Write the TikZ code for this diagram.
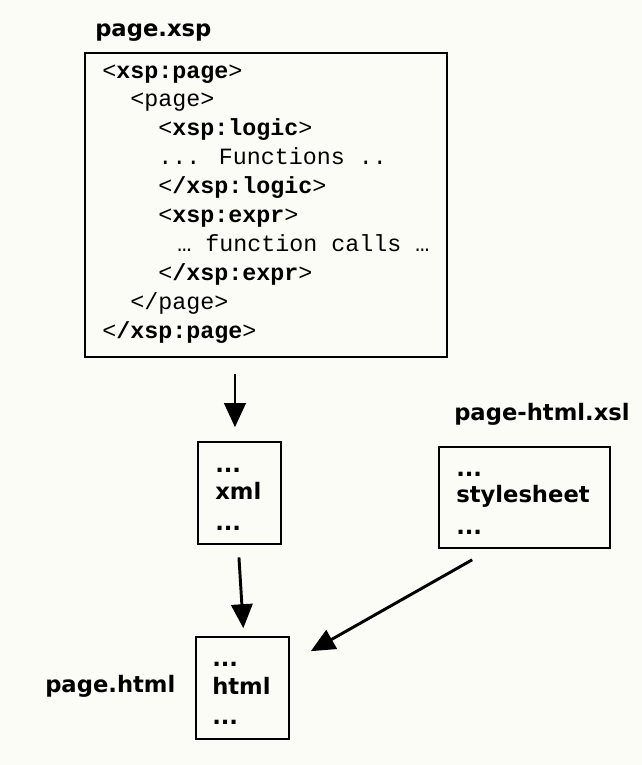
\documentclass[tikz,border=0pt]{standalone}
\usepackage{fontspec}
\usetikzlibrary{arrows.meta,fit,calc}
\newfontfamily\codefont{Liberation Mono}
\newfontfamily\labfont{DejaVu Sans}
\definecolor{bgc}{RGB}{252,252,246}
\tikzset{
  box/.style={draw=black, line width=1.2pt, inner sep=0pt},
  code/.style={font=\codefont\fontsize{17.5}{20}\selectfont, inner sep=0pt, anchor=base west},
  lab/.style={font=\labfont\bfseries\fontsize{17}{20}\selectfont, inner sep=0pt, anchor=base west},
  arr/.style={line width=2.2pt, -{Triangle[width=16pt,length=18pt]}}
}
\newcommand{\tg}[1]{\textless\textbf{#1}>}
\begin{document}
\begin{tikzpicture}[x=0.75pt,y=-0.75pt]
\useasboundingbox[fill=bgc] (0,0) rectangle (642,765);
% labels
\node[lab] (lxsp) at (95,36) {page.xsp};
\node[lab] (lxsl) at (454,420) {page-html.xsl};
\node[lab] (lhtml) at (45,692) {page.html};
% big box
\node[box, fit={(85,53) (447,357)}] (xsp) {};
\node[code] (c1) at (102,78) {\tg{xsp:page}};
\node[code] (c2) at (130,106.9) {<page>};
\node[code] (c3) at (158,135.8) {\tg{xsp:logic}};
\node[code] (c4) at (158,164.7) {... Functions ..};
\node[code] (c5) at (158,193.6) {\tg{/xsp:logic}};
\node[code] (c6) at (158,222.5) {\tg{xsp:expr}};
\node[code] (c7) at (177,251.4) {… function calls …};
\node[code] (c8) at (158,280.3) {\tg{/xsp:expr}};
\node[code] (c9) at (130,309.2) {</page>};
\node[code] (c10) at (102,338) {\tg{/xsp:page}};
% xml box
\node[box, fit={(198,442) (281,544)}] (xml) {};
\node[lab] (x1) at (215,472) {...};
\node[lab] (x2) at (215,499) {xml};
\node[lab] (x3) at (215,530) {...};
% stylesheet box
\node[box, fit={(439,447) (610,548)}] (xsl) {};
\node[lab] (s1) at (456,476) {...};
\node[lab] (s2) at (456,502) {stylesheet};
\node[lab] (s3) at (456,534) {...};
% html box
\node[box, fit={(196,637) (289,739)}] (html) {};
\node[lab] (h1) at (212,666) {...};
\node[lab] (h2) at (212,694) {html};
\node[lab] (h3) at (212,724) {...};
% arrows
\draw[arr, shorten <=12pt, shorten >=10.5pt] ([xshift=-3.4pt]xsp.south -| xml.north) -- ([xshift=-3.4pt]xml.north);
\draw[arr, shorten <=9.5pt, shorten >=6pt] ([xshift=-1pt]xml.south) -- ([xshift=1pt]html.north);
\draw[arr] ($(xsl.south west)+(34,11)$) -- ($(html.north east)+(21,15)$);
\end{tikzpicture}
\end{document}
